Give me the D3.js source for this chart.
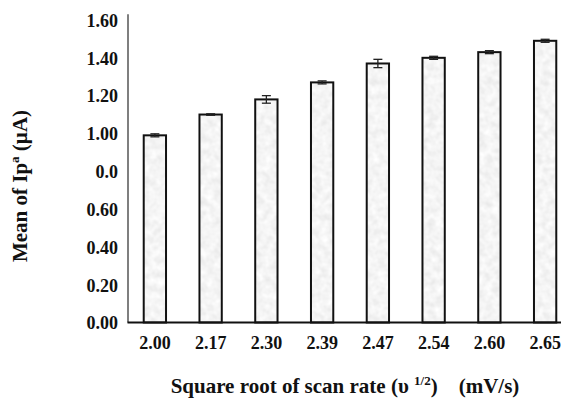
<!DOCTYPE html>
<html>
<head>
<meta charset="utf-8">
<script src="https://cdn.jsdelivr.net/npm/d3@7"></script>
<style>
  html, body { margin: 0; padding: 0; background: #fff; }
  svg { display: block; }
  text { font-family: "Liberation Serif", "Times New Roman", serif; font-weight: bold; fill: #111; }
</style>
</head>
<body>
<svg id="chart" width="563" height="400"></svg>
<script>
// Square root of scan rate (categories) and mean anodic peak current
const categories = ["2.00", "2.17", "2.30", "2.39", "2.47", "2.54", "2.60", "2.65"];
const meanIpa    = [0.99, 1.10, 1.18, 1.27, 1.37, 1.40, 1.43, 1.49];
const errIpa     = [0.008, 0.004, 0.02, 0.008, 0.022, 0.008, 0.008, 0.008];
const yTickValues = [0, 0.2, 0.4, 0.6, 0.8, 1.0, 1.2, 1.4, 1.6];
const yTickLabels = ["0.00", "0.20", "0.40", "0.60", "0.0", "1.00", "1.20", "1.40", "1.60"];

const svg = d3.select("#chart");

// grainy light-grey fill for the bars
const defs = svg.append("defs");
const grain = defs.append("filter").attr("id", "grain")
  .attr("x", 0).attr("y", 0).attr("width", 1).attr("height", 1);
grain.append("feTurbulence").attr("type", "fractalNoise")
  .attr("baseFrequency", "0.14").attr("numOctaves", 2).attr("seed", 7).attr("result", "n");
grain.append("feColorMatrix").attr("in", "n").attr("type", "matrix")
  .attr("values", "0.26 0 0 0 0.78  0.26 0 0 0 0.78  0.26 0 0 0 0.78  0 0 0 0 1")
  .attr("result", "g");
grain.append("feComposite").attr("in", "g").attr("in2", "SourceGraphic").attr("operator", "in");

const x = d3.scaleBand().domain(categories).range([127, 573])
  .paddingInner(0.6).paddingOuter(0.3);
const y = d3.scaleLinear().domain([0, 1.6]).range([322.5, 20]);

// bars: textured fill, then outline
const bars = svg.append("g");
bars.selectAll("rect.fill").data(categories).join("rect")
  .attr("class", "fill")
  .attr("x", d => x(d))
  .attr("y", (d, i) => y(meanIpa[i]))
  .attr("width", x.bandwidth())
  .attr("height", (d, i) => y(0) - y(meanIpa[i]))
  .attr("fill", "#eee")
  .attr("filter", "url(#grain)");
bars.selectAll("rect.outline").data(categories).join("rect")
  .attr("class", "outline")
  .attr("x", d => x(d))
  .attr("y", (d, i) => y(meanIpa[i]))
  .attr("width", x.bandwidth())
  .attr("height", (d, i) => y(0) - y(meanIpa[i]))
  .attr("fill", "none")
  .attr("stroke", "#111")
  .attr("stroke-width", 2);

// error bars
const err = svg.append("g").attr("stroke", "#222").attr("stroke-width", 1.3);
categories.forEach((c, i) => {
  const cx = x(c) + x.bandwidth() / 2;
  const hi = y(meanIpa[i] + errIpa[i]);
  const lo = y(meanIpa[i] - errIpa[i]);
  err.append("line").attr("x1", cx).attr("x2", cx).attr("y1", hi).attr("y2", lo);
  err.append("line").attr("x1", cx - 4.5).attr("x2", cx + 4.5).attr("y1", hi).attr("y2", hi);
  err.append("line").attr("x1", cx - 4.5).attr("x2", cx + 4.5).attr("y1", lo).attr("y2", lo);
});

// y axis
const yAxis = d3.axisLeft(y).tickValues(yTickValues).tickSize(0).tickPadding(10)
  .tickFormat((d, i) => yTickLabels[i]);
const gy = svg.append("g").attr("transform", "translate(128,0)").call(yAxis);
gy.select(".domain").remove();
gy.selectAll("text").attr("font-size", 18).attr("dy", "0.35em");
svg.append("line").attr("x1", 128).attr("x2", 128)
  .attr("y1", y(1.63)).attr("y2", y(0))
  .attr("stroke", "#555").attr("stroke-width", 1.5);

// x axis
const xAxis = d3.axisBottom(x).tickSize(0).tickPadding(14);
const gx = svg.append("g").attr("transform", `translate(0,${y(0)})`).call(xAxis);
gx.select(".domain").remove();
gx.selectAll("text").attr("font-size", 18);
svg.append("line").attr("x1", 127.5).attr("x2", 561)
  .attr("y1", y(0)).attr("y2", y(0))
  .attr("stroke", "#111").attr("stroke-width", 2);

// axis titles
const xt = svg.append("text").attr("x", 345).attr("y", 393)
  .attr("text-anchor", "middle").attr("font-size", 21);
xt.append("tspan").text("Square root of scan rate (\u03C5 ");
xt.append("tspan").attr("font-size", 13).attr("dy", -8).text("1/2");
xt.append("tspan").attr("dy", 8).text(")\u00A0\u00A0\u00A0\u00A0(mV/s)");

const yt = svg.append("text")
  .attr("transform", "translate(27,186) rotate(-90)")
  .attr("text-anchor", "middle").attr("font-size", 21);
yt.append("tspan").text("Mean of Ip");
yt.append("tspan").attr("font-size", 13).attr("dy", -8).text("a");
yt.append("tspan").attr("dy", 8).text(" (\u00B5A)");
</script>
</body>
</html>
